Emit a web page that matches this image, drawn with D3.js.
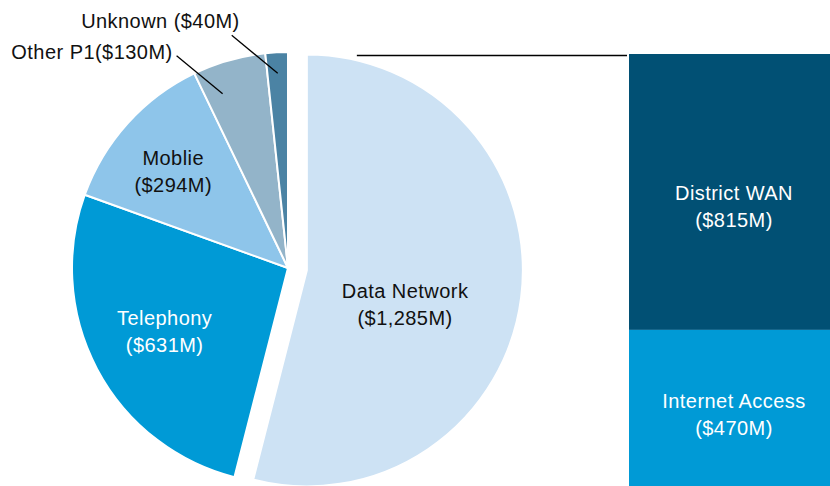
<!DOCTYPE html>
<html>
<head>
    <meta charset="utf-8" />
    <title>Network spend breakdown</title>
    <style>
        body { margin: 0; background: #fff; }
        svg { display: block; }
        text { font-family: "Liberation Sans", Arial, sans-serif; font-size: 20px; letter-spacing: 0.45px; }
    </style>
    <script src="https://cdn.jsdelivr.net/npm/d3@7/dist/d3.min.js"></script>
</head>
<body>
    <script>
        // pie categories and values ($M)
        const pieNames = ["Data Network", "Telephony", "Moblie", "Other P1", "Unknown"];
        const pieValues = [1285, 631, 294, 130, 40];
        const pieColors = ["#cde2f4", "#009ad6", "#8ec5ea", "#93b4c9", "#4b83a4"];

        // breakdown of the Data Network slice
        const barNames = ["District WAN", "Internet Access"];
        const barValues = [815, 470];
        const barColors = ["#015074", "#009ad6"];

        const width = 830, height = 486;
        const cx = 288, cy = 268, radius = 216, explode = 19;

        let svg = d3.select('body').append('svg')
            .attr('width', width)
            .attr('height', height);

        let pieData = pieNames.map((n, i) => ({ name: n, value: pieValues[i], color: pieColors[i] }));

        let pie = d3.pie()
            .sort(null)
            .value(d => d.value);

        let arc = d3.arc().innerRadius(0).outerRadius(radius);

        let arcs = pie(pieData);

        let g = svg.append('g')
            .attr('transform', 'translate(' + cx + ',' + cy + ')');

        // offset of a slice (only the first one is pulled out)
        function shift(d, i) {
            if (i !== 0) return [0, 0];
            let a = (d.startAngle + d.endAngle) / 2;
            return [Math.sin(a) * explode, -Math.cos(a) * explode];
        }

        let slices = g.selectAll('.slice')
            .data(arcs)
            .enter().append('g')
            .attr('class', 'slice')
            .attr('transform', (d, i) => 'translate(' + shift(d, i) + ')');

        slices.append('path')
            .attr('d', arc)
            .style('fill', d => d.data.color)
            .style('stroke', '#fff')
            .style('stroke-width', 2)
            .style('stroke-linejoin', 'round');

        function polar(angle, r) {
            return [Math.sin(angle) * r, -Math.cos(angle) * r];
        }

        // labels inside the big slices
        const inside = {
            "Data Network": { r: 104, nudge: 12, fill: '#111' },
            "Telephony": { r: 139, nudge: 0.5, fill: '#fff' },
            "Moblie": { r: 150, nudge: -2, fill: '#111' }
        };

        slices.filter(d => inside[d.data.name])
            .each(function(d) {
                let o = inside[d.data.name];
                let a = (d.startAngle + d.endAngle) / 2 + o.nudge * Math.PI / 180;
                let p = polar(a, o.r);
                let t = d3.select(this).append('text')
                    .attr('text-anchor', 'middle')
                    .style('fill', o.fill);
                t.append('tspan').attr('x', p[0]).attr('y', p[1] - 6.5).text(d.data.name);
                t.append('tspan').attr('x', p[0]).attr('y', p[1] + 20.5)
                    .text('($' + d3.format(',')(d.data.value) + 'M)');
            });

        // outside labels with leader lines for the thin slices
        const outside = {
            "Other P1": { r: 186, nudge: -4.7, dx: -4, dy: 3, sep: '' },
            "Unknown": { r: 195, nudge: 0, dx: 8, dy: -7, sep: ' ' }
        };

        slices.filter(d => outside[d.data.name])
            .each(function(d) {
                let o = outside[d.data.name];
                let a = (d.startAngle + d.endAngle) / 2 + o.nudge * Math.PI / 180;
                let p1 = polar(a, o.r);
                let p2 = [p1[0] - 46, p1[1] - 38];
                d3.select(this).append('line')
                    .attr('x1', p1[0]).attr('y1', p1[1])
                    .attr('x2', p2[0]).attr('y2', p2[1])
                    .style('stroke', '#000')
                    .style('stroke-width', 1.3);
                d3.select(this).append('text')
                    .attr('x', p2[0] + o.dx)
                    .attr('y', p2[1] + o.dy)
                    .attr('text-anchor', 'end')
                    .style('fill', '#111')
                    .text(d.data.name + o.sep + '($' + d.data.value + 'M)');
            });

        // stacked bar for the Data Network breakdown
        const barX = 629, barW = 210, barTop = 54;
        let barTotal = d3.sum(barValues);
        let yBar = d3.scaleLinear().domain([0, barTotal]).range([barTop, barTop + 435]);

        let barData = barNames.map((n, i) => ({
            name: n,
            value: barValues[i],
            color: barColors[i],
            y0: d3.sum(barValues.slice(0, i)),
            y1: d3.sum(barValues.slice(0, i + 1))
        }));

        let bars = svg.selectAll('.seg')
            .data(barData)
            .enter().append('g')
            .attr('class', 'seg');

        bars.append('rect')
            .attr('x', barX)
            .attr('y', d => yBar(d.y0))
            .attr('width', barW)
            .attr('height', d => yBar(d.y1) - yBar(d.y0))
            .style('fill', d => d.color);

        bars.append('text')
            .attr('text-anchor', 'middle')
            .style('fill', '#fff')
            .each(function(d, i) {
                let my = (yBar(d.y0) + yBar(d.y1)) / 2 + (i === 0 ? 15 : 5);
                let t = d3.select(this);
                t.append('tspan').attr('x', barX + barW / 2).attr('y', my - 6.5).text(d.name);
                t.append('tspan').attr('x', barX + barW / 2).attr('y', my + 20.5)
                    .text('($' + d.value + 'M)');
            });

        // connector from the pulled-out slice to the bar
        let dnShift = shift(arcs[0], 0);
        svg.append('line')
            .attr('x1', cx + dnShift[0] + 50)
            .attr('x2', barX - 2)
            .attr('y1', barTop + 1.5)
            .attr('y2', barTop + 1.5)
            .style('stroke', '#000')
            .style('stroke-width', 1.5);
    </script>
</body>
</html>
